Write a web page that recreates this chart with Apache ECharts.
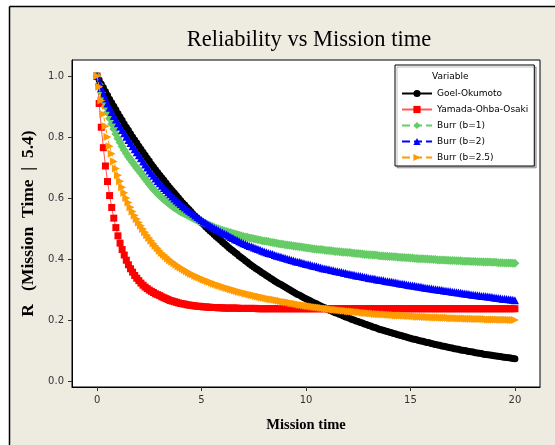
<!DOCTYPE html>
<html>
<head>
<meta charset="utf-8">
<script src="https://cdn.jsdelivr.net/npm/echarts@6/dist/echarts.min.js"></script>
<style>html,body{margin:0;padding:0;background:#fff;}#chart{width:555px;height:445px;}</style>
</head>
<body>
<div id="chart"></div>
<script>
// Mission time grid (0 to 20 in steps of 0.1)
const missionTime = [
  0,0.1,0.2,0.3,0.4,0.5,0.6,0.7,0.8,0.9,
  1,1.1,1.2,1.3,1.4,1.5,1.6,1.7,1.8,1.9,
  2,2.1,2.2,2.3,2.4,2.5,2.6,2.7,2.8,2.9,
  3,3.1,3.2,3.3,3.4,3.5,3.6,3.7,3.8,3.9,
  4,4.1,4.2,4.3,4.4,4.5,4.6,4.7,4.8,4.9,
  5,5.1,5.2,5.3,5.4,5.5,5.6,5.7,5.8,5.9,
  6,6.1,6.2,6.3,6.4,6.5,6.6,6.7,6.8,6.9,
  7,7.1,7.2,7.3,7.4,7.5,7.6,7.7,7.8,7.9,
  8,8.1,8.2,8.3,8.4,8.5,8.6,8.7,8.8,8.9,
  9,9.1,9.2,9.3,9.4,9.5,9.6,9.7,9.8,9.9,
  10,10.1,10.2,10.3,10.4,10.5,10.6,10.7,10.8,10.9,
  11,11.1,11.2,11.3,11.4,11.5,11.6,11.7,11.8,11.9,
  12,12.1,12.2,12.3,12.4,12.5,12.6,12.7,12.8,12.9,
  13,13.1,13.2,13.3,13.4,13.5,13.6,13.7,13.8,13.9,
  14,14.1,14.2,14.3,14.4,14.5,14.6,14.7,14.8,14.9,
  15,15.1,15.2,15.3,15.4,15.5,15.6,15.7,15.8,15.9,
  16,16.1,16.2,16.3,16.4,16.5,16.6,16.7,16.8,16.9,
  17,17.1,17.2,17.3,17.4,17.5,17.6,17.7,17.8,17.9,
  18,18.1,18.2,18.3,18.4,18.5,18.6,18.7,18.8,18.9,
  19,19.1,19.2,19.3,19.4,19.5,19.6,19.7,19.8,19.9,
  20
];

const goelOkumoto = [
  1.000,0.987,0.974,0.962,0.949,0.937,0.924,0.912,0.901,0.889,
  0.877,0.866,0.855,0.843,0.832,0.822,0.811,0.800,0.790,0.780,
  0.770,0.760,0.750,0.740,0.730,0.721,0.711,0.702,0.693,0.684,
  0.675,0.666,0.658,0.649,0.640,0.632,0.624,0.616,0.608,0.600,
  0.592,0.584,0.577,0.569,0.562,0.555,0.547,0.540,0.533,0.526,
  0.519,0.513,0.506,0.499,0.493,0.487,0.480,0.474,0.468,0.462,
  0.456,0.450,0.444,0.438,0.432,0.427,0.421,0.416,0.410,0.405,
  0.400,0.394,0.389,0.384,0.379,0.374,0.369,0.365,0.360,0.355,
  0.351,0.346,0.342,0.337,0.333,0.328,0.324,0.320,0.316,0.312,
  0.308,0.304,0.300,0.296,0.292,0.288,0.284,0.281,0.277,0.273,
  0.270,0.266,0.263,0.259,0.256,0.253,0.249,0.246,0.243,0.240,
  0.237,0.233,0.230,0.227,0.224,0.222,0.219,0.216,0.213,0.210,
  0.208,0.205,0.202,0.200,0.197,0.195,0.192,0.190,0.187,0.185,
  0.182,0.180,0.177,0.175,0.173,0.170,0.168,0.166,0.164,0.162,
  0.160,0.158,0.156,0.154,0.152,0.150,0.148,0.146,0.144,0.142,
  0.140,0.138,0.137,0.135,0.133,0.131,0.130,0.128,0.126,0.125,
  0.123,0.121,0.120,0.118,0.117,0.115,0.114,0.112,0.111,0.109,
  0.108,0.106,0.105,0.104,0.102,0.101,0.100,0.098,0.097,0.096,
  0.095,0.093,0.092,0.091,0.090,0.088,0.087,0.086,0.085,0.084,
  0.083,0.082,0.081,0.080,0.079,0.078,0.077,0.076,0.075,0.074,
  0.073
];

const yamadaOhbaOsaki = [
  1.000,0.910,0.832,0.765,0.705,0.654,0.608,0.569,0.534,0.503,
  0.476,0.452,0.431,0.413,0.396,0.381,0.368,0.357,0.346,0.337,
  0.329,0.321,0.314,0.308,0.303,0.298,0.294,0.290,0.286,0.283,
  0.280,0.276,0.273,0.270,0.267,0.264,0.262,0.260,0.258,0.256,
  0.254,0.253,0.252,0.250,0.249,0.248,0.247,0.246,0.245,0.245,
  0.244,0.243,0.243,0.242,0.242,0.241,0.241,0.241,0.240,0.240,
  0.240,0.239,0.239,0.239,0.239,0.239,0.239,0.239,0.238,0.238,
  0.238,0.238,0.238,0.238,0.238,0.238,0.238,0.237,0.237,0.237,
  0.237,0.237,0.237,0.237,0.237,0.237,0.237,0.237,0.237,0.237,
  0.237,0.237,0.237,0.237,0.237,0.237,0.237,0.237,0.237,0.237,
  0.237,0.237,0.237,0.237,0.237,0.237,0.237,0.237,0.237,0.237,
  0.237,0.237,0.237,0.237,0.237,0.237,0.237,0.237,0.237,0.237,
  0.237,0.237,0.237,0.237,0.237,0.237,0.237,0.237,0.237,0.237,
  0.237,0.237,0.237,0.237,0.237,0.237,0.237,0.237,0.237,0.237,
  0.237,0.237,0.237,0.237,0.237,0.237,0.237,0.237,0.237,0.237,
  0.237,0.237,0.237,0.237,0.237,0.237,0.237,0.237,0.237,0.237,
  0.237,0.237,0.237,0.237,0.237,0.237,0.237,0.237,0.237,0.237,
  0.237,0.237,0.237,0.237,0.237,0.237,0.237,0.237,0.237,0.237,
  0.237,0.237,0.237,0.237,0.237,0.237,0.237,0.237,0.237,0.237,
  0.237,0.237,0.237,0.237,0.237,0.237,0.237,0.237,0.237,0.237,
  0.237
];

const burrB1 = [
  1.000,0.972,0.946,0.922,0.900,0.880,0.861,0.843,0.826,0.810,
  0.795,0.782,0.769,0.757,0.746,0.735,0.726,0.717,0.707,0.698,
  0.690,0.681,0.672,0.663,0.654,0.645,0.637,0.629,0.621,0.614,
  0.607,0.601,0.595,0.589,0.584,0.578,0.573,0.568,0.564,0.559,
  0.555,0.551,0.548,0.544,0.541,0.537,0.534,0.530,0.527,0.524,
  0.521,0.518,0.515,0.512,0.510,0.507,0.504,0.501,0.499,0.496,
  0.494,0.492,0.490,0.488,0.486,0.484,0.482,0.480,0.478,0.476,
  0.474,0.472,0.471,0.469,0.468,0.466,0.465,0.463,0.462,0.460,
  0.459,0.458,0.457,0.455,0.454,0.453,0.452,0.450,0.449,0.448,
  0.447,0.446,0.445,0.444,0.443,0.442,0.441,0.440,0.439,0.438,
  0.437,0.436,0.435,0.434,0.433,0.432,0.431,0.431,0.430,0.429,
  0.428,0.428,0.427,0.426,0.425,0.425,0.424,0.423,0.422,0.422,
  0.421,0.421,0.420,0.419,0.418,0.418,0.417,0.416,0.415,0.415,
  0.414,0.414,0.413,0.413,0.412,0.411,0.410,0.410,0.409,0.409,
  0.408,0.408,0.407,0.407,0.406,0.406,0.405,0.405,0.404,0.404,
  0.403,0.403,0.402,0.402,0.401,0.401,0.401,0.400,0.400,0.399,
  0.399,0.398,0.398,0.397,0.397,0.397,0.397,0.396,0.396,0.395,
  0.395,0.395,0.394,0.394,0.394,0.393,0.393,0.393,0.393,0.392,
  0.392,0.392,0.391,0.391,0.391,0.390,0.390,0.390,0.390,0.389,
  0.389,0.389,0.388,0.388,0.388,0.387,0.387,0.387,0.387,0.386,
  0.386
];

const burrB2 = [
  1.000,0.980,0.961,0.943,0.926,0.910,0.896,0.882,0.869,0.857,
  0.845,0.834,0.823,0.812,0.801,0.790,0.780,0.770,0.760,0.750,
  0.740,0.730,0.720,0.710,0.700,0.690,0.681,0.673,0.664,0.656,
  0.648,0.640,0.633,0.626,0.619,0.612,0.605,0.598,0.592,0.586,
  0.580,0.574,0.569,0.563,0.558,0.553,0.548,0.543,0.538,0.533,
  0.528,0.523,0.519,0.514,0.510,0.506,0.502,0.498,0.494,0.490,
  0.487,0.483,0.480,0.476,0.472,0.469,0.465,0.462,0.458,0.455,
  0.452,0.449,0.446,0.443,0.441,0.438,0.435,0.433,0.430,0.427,
  0.425,0.422,0.420,0.418,0.416,0.413,0.411,0.409,0.407,0.405,
  0.403,0.401,0.399,0.397,0.395,0.393,0.391,0.390,0.388,0.386,
  0.384,0.383,0.381,0.379,0.377,0.376,0.374,0.372,0.370,0.369,
  0.367,0.366,0.364,0.363,0.361,0.360,0.358,0.357,0.355,0.354,
  0.352,0.351,0.349,0.348,0.346,0.345,0.344,0.343,0.341,0.340,
  0.338,0.337,0.336,0.335,0.333,0.332,0.331,0.330,0.328,0.327,
  0.326,0.325,0.324,0.323,0.321,0.320,0.319,0.318,0.316,0.315,
  0.314,0.313,0.312,0.311,0.310,0.309,0.307,0.306,0.305,0.304,
  0.303,0.302,0.301,0.300,0.299,0.298,0.297,0.296,0.295,0.294,
  0.293,0.292,0.291,0.290,0.289,0.288,0.287,0.286,0.285,0.284,
  0.283,0.282,0.281,0.280,0.279,0.279,0.278,0.277,0.276,0.275,
  0.274,0.273,0.272,0.271,0.270,0.270,0.269,0.268,0.267,0.266,
  0.265
];

const burrB25 = [
  1.000,0.965,0.920,0.875,0.835,0.800,0.770,0.745,0.720,0.697,
  0.675,0.655,0.635,0.617,0.600,0.585,0.570,0.556,0.543,0.531,
  0.520,0.509,0.498,0.488,0.478,0.469,0.460,0.451,0.443,0.435,
  0.427,0.420,0.414,0.408,0.402,0.396,0.391,0.386,0.381,0.376,
  0.372,0.368,0.364,0.360,0.356,0.352,0.349,0.345,0.342,0.339,
  0.336,0.333,0.330,0.327,0.325,0.322,0.319,0.317,0.314,0.312,
  0.310,0.307,0.305,0.303,0.301,0.299,0.297,0.295,0.293,0.291,
  0.289,0.287,0.286,0.284,0.282,0.281,0.279,0.277,0.276,0.274,
  0.273,0.271,0.270,0.268,0.267,0.266,0.265,0.263,0.262,0.260,
  0.259,0.258,0.257,0.255,0.254,0.253,0.252,0.250,0.249,0.248,
  0.247,0.246,0.245,0.244,0.243,0.242,0.241,0.240,0.239,0.238,
  0.237,0.236,0.235,0.234,0.234,0.233,0.232,0.231,0.230,0.230,
  0.229,0.228,0.228,0.227,0.226,0.225,0.225,0.224,0.223,0.223,
  0.222,0.221,0.221,0.220,0.220,0.219,0.219,0.218,0.218,0.217,
  0.217,0.216,0.216,0.215,0.215,0.215,0.215,0.214,0.214,0.213,
  0.213,0.212,0.212,0.211,0.211,0.211,0.211,0.210,0.210,0.209,
  0.209,0.208,0.208,0.208,0.208,0.207,0.207,0.207,0.207,0.206,
  0.206,0.206,0.206,0.205,0.205,0.205,0.205,0.204,0.204,0.204,
  0.204,0.203,0.203,0.203,0.203,0.203,0.203,0.202,0.202,0.202,
  0.202,0.202,0.202,0.201,0.201,0.201,0.201,0.201,0.200,0.200,
  0.200
];

const seriesNames = ['Goel-Okumoto','Yamada-Ohba-Osaki','Burr (b=1)','Burr (b=2)','Burr (b=2.5)'];
const xTicks = [0,5,10,15,20];
const yTicks = [0,0.2,0.4,0.6,0.8,1.0];

const pairs = arr => missionTime.map((t,i) => [t, arr[i]]);

const styles = [
  {data: goelOkumoto, color:'#000000', line:'#000000', type:'solid', symbol:'circle', size:7},
  {data: yamadaOhbaOsaki, color:'#ff0000', line:'#ff5a5a', type:'solid', symbol:'rect', size:7},
  {data: burrB1, color:'#66cc66', line:'#66cc66', type:'dashed', symbol:'diamond', size:9},
  {data: burrB2, color:'#0000ff', line:'#0000ff', type:'dashed', symbol:'triangle', size:8},
  {data: burrB25, color:'#ff9a00', line:'#ff9a00', type:'dashed', symbol:'path://M0,0 L10,5 L0,10 Z', size:8}
];

const chart = echarts.init(document.getElementById('chart'), null, {renderer:'canvas'});
chart.setOption({
  animation: false,
  backgroundColor: '#eeebe1',
  graphic: [
    {type:'rect', shape:{x:0,y:0,width:555,height:6}, style:{fill:'#ffffff'}, silent:true},
    {type:'rect', shape:{x:0,y:0,width:9,height:445}, style:{fill:'#ffffff'}, silent:true},
    {type:'line', shape:{x1:9.5,y1:6.5,x2:555,y2:6.5}, style:{stroke:'#000',lineWidth:1.5}, silent:true},
    {type:'line', shape:{x1:9.5,y1:6.5,x2:9.5,y2:445}, style:{stroke:'#000',lineWidth:1.5}, silent:true},
    {type:'text', x:309, y:40, style:{text:'Reliability vs Mission time', fontFamily:'"Liberation Serif", serif', fontSize:22.5, fill:'#000', textAlign:'center', textVerticalAlign:'middle'}},
    {type:'text', x:432, y:77, z:100, style:{text:'Variable', fontFamily:'"DejaVu Sans", sans-serif', fontSize:9, fill:'#000', textAlign:'left', textVerticalAlign:'middle'}}
  ],
  grid: {left:72, top:60, right:15, bottom:58, show:true, backgroundColor:'#ffffff', borderColor:'#000', borderWidth:1},
  legend: {
    orient:'vertical', left:395, top:65,
    padding:[24,6,4,6],
    backgroundColor:'#ffffff', borderColor:'#000', borderWidth:1,
    shadowColor:'rgba(0,0,0,0.25)', shadowOffsetX:2, shadowOffsetY:2, shadowBlur:0,
    itemWidth:30, itemHeight:9, itemGap:7,
    textStyle:{fontFamily:'"DejaVu Sans", sans-serif', fontSize:9, color:'#000'},
    data: seriesNames
  },
  xAxis: {
    type:'value', min:-1.2, max:21.2,
    name:'Mission time', nameLocation:'middle', nameGap:31,
    nameTextStyle:{fontFamily:'"Liberation Serif", serif', fontWeight:'bold', fontSize:14.5, color:'#000'},
    axisLine:{show:true, onZero:false, lineStyle:{color:'#000'}},
    axisTick:{show:true, length:4, customValues:xTicks, lineStyle:{color:'#333'}},
    axisLabel:{customValues:xTicks, margin:8, fontFamily:'"DejaVu Sans", sans-serif', fontSize:10, color:'#333'},
    splitLine:{show:false}
  },
  yAxis: {
    type:'value', min:-0.0197, max:1.0525,
    name:'R   (Mission  Time  |  5.4)', nameLocation:'middle', nameGap:33, nameRotate:90,
    nameTextStyle:{fontFamily:'"Liberation Serif", serif', fontWeight:'bold', fontSize:17.5, color:'#000'},
    axisLine:{show:true, onZero:false, lineStyle:{color:'#000'}},
    axisTick:{show:true, length:4, customValues:yTicks, lineStyle:{color:'#333'}},
    axisLabel:{customValues:yTicks, margin:8, fontFamily:'"DejaVu Sans", sans-serif', fontSize:10, color:'#333', formatter: v => v.toFixed(1)},
    splitLine:{show:false}
  },
  series: styles.map((s,i) => ({
    name: seriesNames[i], type:'line', data: pairs(s.data),
    symbol: s.symbol, symbolSize: s.size, showSymbol:true, showAllSymbol:true,
    itemStyle:{color:s.color, borderWidth:0},
    lineStyle:{color:s.line, width:1, type:s.type},
    emphasis:{disabled:true}, z: 2 + i
  }))
});
</script>
</body>
</html>
